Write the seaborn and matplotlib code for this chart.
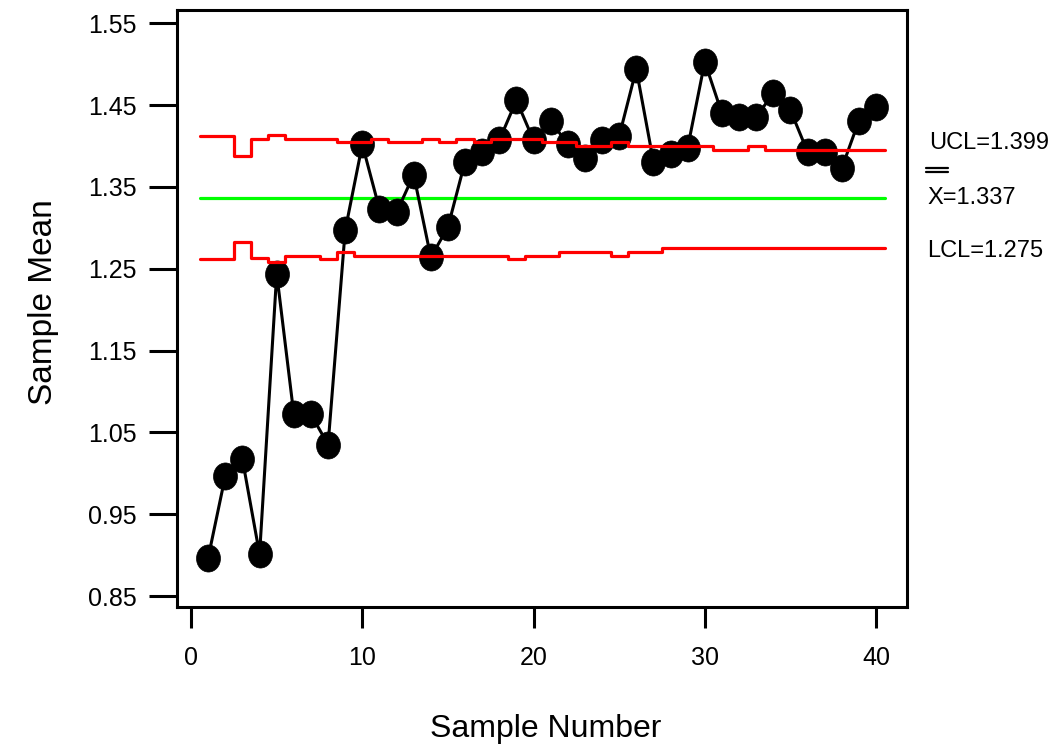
import numpy as np
import matplotlib
matplotlib.use("Agg")
import matplotlib.pyplot as plt
from matplotlib.path import Path
from matplotlib.lines import Line2D
from matplotlib.transforms import Affine2D
import seaborn as sns

# ---------------- data ----------------
sample = list(range(1, 41))
sample_mean = [0.897, 0.997, 1.017, 0.901, 1.244, 1.072, 1.072, 1.035, 1.297, 1.402,
               1.323, 1.319, 1.365, 1.264, 1.301, 1.381, 1.393, 1.407, 1.456, 1.407,
               1.431, 1.402, 1.386, 1.407, 1.412, 1.494, 1.381, 1.390, 1.398, 1.503,
               1.440, 1.435, 1.435, 1.465, 1.444, 1.393, 1.393, 1.373, 1.431, 1.448]
ucl = [1.412, 1.412, 1.388, 1.409, 1.413, 1.409, 1.409, 1.409, 1.4045, 1.4045,
       1.409, 1.4045, 1.4045, 1.409, 1.4045, 1.409, 1.4045, 1.409, 1.409, 1.409,
       1.4045, 1.4045, 1.400, 1.400, 1.4045, 1.400, 1.400, 1.400, 1.400, 1.400,
       1.3955, 1.3955, 1.400, 1.3955, 1.3955, 1.3955, 1.3955, 1.3955, 1.3955, 1.3955]
lcl = [1.262, 1.262, 1.283, 1.263, 1.258, 1.266, 1.266, 1.262, 1.270, 1.266,
       1.266, 1.266, 1.266, 1.266, 1.266, 1.266, 1.266, 1.266, 1.262, 1.266,
       1.266, 1.271, 1.271, 1.271, 1.266, 1.271, 1.271, 1.275, 1.275, 1.275,
       1.275, 1.275, 1.275, 1.275, 1.275, 1.275, 1.275, 1.275, 1.275, 1.275]
center = 1.337
x_ticks = [0, 10, 20, 30, 40]
y_ticks = [0.85, 0.95, 1.05, 1.15, 1.25, 1.35, 1.45, 1.55]
y_ticklabels = ["0.85", "0.95", "1.05", "1.15", "1.25", "1.35", "1.45", "1.55"]
ucl_label = "UCL=1.399"
center_label = "X=1.337"
lcl_label = "LCL=1.275"
x_title = "Sample Number"
y_title = "Sample Mean"

# ---------------- style ----------------
sns.set_style("ticks")
FAM = ["Liberation Sans", "DejaVu Sans"]
plt.rcParams["font.family"] = FAM
plt.rcParams["text.color"] = "black"
plt.rcParams["axes.labelcolor"] = "black"
plt.rcParams["xtick.color"] = "black"
plt.rcParams["ytick.color"] = "black"

fig = plt.figure(figsize=(10.57, 7.47), dpi=100)
ax = fig.add_axes([0.1675, 0.1874, 0.6906, 0.7992])

edges = np.append(np.array(sample) - 0.5, sample[-1] + 0.5)
ucl_vals = np.append(ucl, ucl[-1])
lcl_vals = np.append(lcl, lcl[-1])

# center line
sns.lineplot(x=[edges[0], edges[-1]], y=[center, center], color="#00FF00",
             linewidth=2.3, ax=ax, zorder=2)

# data with elliptical markers
ell = Affine2D().scale(1.0, 1.13).transform_path(Path.unit_circle())
sns.lineplot(x=sample, y=sample_mean, color="black", linewidth=2.2,
             marker=ell, markersize=19.5, markeredgecolor="black",
             markerfacecolor="black", markeredgewidth=0.5, ax=ax, zorder=3)

# control limits (step lines)
sns.lineplot(x=edges, y=ucl_vals, drawstyle="steps-post", color="#FF0000",
             linewidth=2.3, ax=ax, zorder=4)
sns.lineplot(x=edges, y=lcl_vals, drawstyle="steps-post", color="#FF0000",
             linewidth=2.3, ax=ax, zorder=4)

ax.set_xlim(-0.82, 41.81)
ax.set_ylim(0.8366, 1.5663)
ax.set_xticks(x_ticks)
ax.set_xticklabels([str(t) for t in x_ticks])
ax.set_yticks(y_ticks)
ax.set_yticklabels(y_ticklabels)

for s in ax.spines.values():
    s.set_visible(True)
    s.set_linewidth(2.2)
    s.set_color("black")

ax.tick_params(axis="both", direction="out", width=2.2, color="black",
               labelsize=18, labelcolor="black")
ax.tick_params(axis="x", length=15, pad=13)
ax.tick_params(axis="y", length=20, pad=9)

ax.set_xlabel(x_title, fontsize=23, color="black")
ax.set_ylabel(y_title, fontsize=24, color="black")
ax.xaxis.label.set_va("baseline")
ax.xaxis.set_label_coords(0.5048, -0.2178)
ax.yaxis.label.set_va("baseline")
ax.yaxis.set_label_coords(-0.1712, 0.510)

# right-side labels
fig.text(0.879, 0.8086, ucl_label, fontsize=17, va="center", ha="left", color="black")
fig.text(0.877, 0.7356, center_label, fontsize=17, va="center", ha="left", color="black")
fig.text(0.877, 0.6640, lcl_label, fontsize=17, va="center", ha="left", color="black")
for yy in (0.7751, 0.7697):
    fig.add_artist(Line2D([0.876, 0.897], [yy, yy], transform=fig.transFigure,
                          color="black", linewidth=1.6))

fig.savefig("out.png", dpi=100)
